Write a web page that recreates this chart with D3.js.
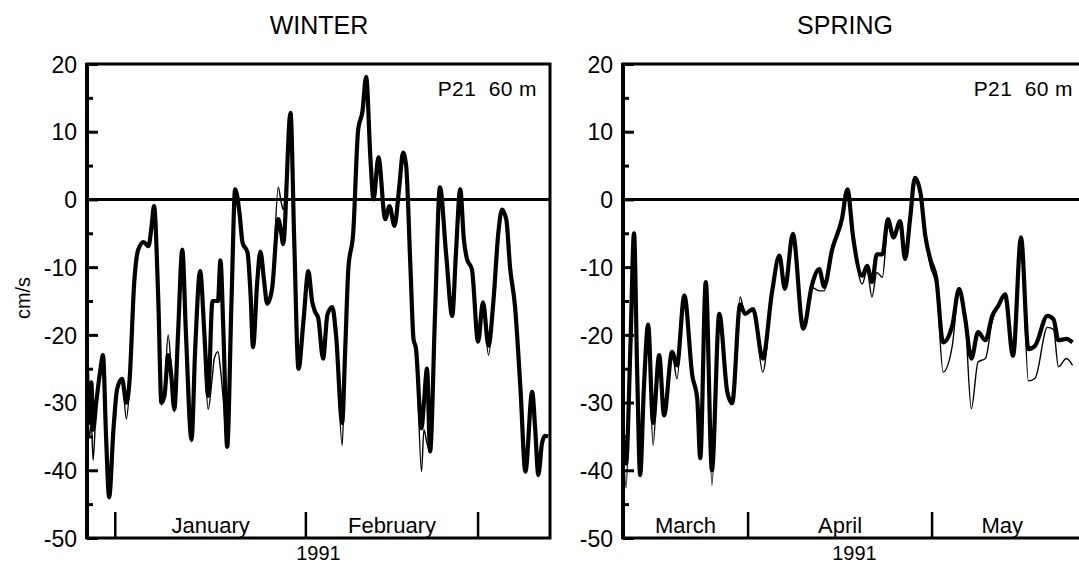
<!DOCTYPE html>
<html>
<head>
<meta charset="utf-8">
<script src="https://cdn.jsdelivr.net/npm/d3@7"></script>
<style>
  body { margin: 0; background: #fff; }
  text { font-family: "Liberation Sans", Arial, sans-serif; fill: #000; }
</style>
</head>
<body>
<script>
/* y axis */
var yTicks = [20, 10, 0, -10, -20, -30, -40, -50];
var yMinorTicks = [15, 5, -5, -15, -25, -35, -45];

/* winter: day of 1991 (0 = Jan 1), thick and thin series in cm/s */
var winterDays = [-4.6, -4.2, -3.9, -3.6, -3.1, -2.4, -2.0, -1.5, -1.0, -0.3,
  0.3, 1.1, 1.8, 2.3, 3.1, 3.7, 4.6, 5.4, 5.9, 6.3,
  7.0, 7.5, 8.0, 8.6, 9.1, 9.6, 10.2, 10.9, 11.5, 12.4,
  13.0, 13.8, 14.5, 15.1, 15.8, 16.1, 16.7, 17.1, 17.6, 18.2,
  18.9, 19.5, 20.2, 20.7, 21.5, 22.0, 22.4, 23.1, 23.6, 24.2,
  24.7, 25.5, 26.5, 27.0, 27.3, 28.5, 29.1, 29.8, 30.6, 31.4,
  32.0, 32.5, 33.0, 33.8, 34.5, 35.3, 35.9, 36.9, 37.4, 37.9,
  38.7, 39.5, 40.2, 40.8, 41.5, 42.0, 42.8, 43.9, 44.6, 45.4,
  46.2, 46.8, 47.3, 48.0, 48.5, 48.9, 49.8, 50.2, 50.7, 51.2,
  52.0, 52.8, 53.8, 54.8, 55.4, 56.1, 56.7, 57.2, 58.0, 59.0,
  59.8, 60.7, 61.5, 62.3, 62.9, 63.6, 64.2, 65.0, 65.9, 66.7,
  67.8, 68.3, 68.8, 69.4, 69.9, 70.4];
var winterThick = [-25, -33, -27, -34, -30, -25, -23, -35, -44, -34,
  -28, -26.5, -30, -27, -12, -7.5, -6.3, -6.9, -4, -1,
  -15, -30, -29, -23, -26, -31, -20, -7.4, -20, -35.5,
  -22, -10.6, -20, -29, -15, -15, -15, -9, -20, -36.5,
  -15, 1.5, -2, -6.4, -7.8, -14, -21.8, -12, -7.7, -12,
  -15.4, -13.2, -2.9, -5, -6.6, 12.8, -6, -25, -18, -10.6,
  -15, -16.6, -17.5, -23.5, -17, -15.9, -20, -33, -22, -10.3,
  -4.9, 10.3, 13, 18.1, 6, 0, 6.2, -2.9, -1, -3.9,
  2, 6.9, 5, -10, -20.6, -22, -33.8, -30, -25, -37.2,
  -17, 1.8, -8, -17.2, -8, 1.5, -6, -8.8, -10.3, -21,
  -15.2, -21.6, -15, -4.9, -1.5, -3, -10, -15.7, -28, -40.2,
  -28.4, -34, -40.7, -36, -34.9, -35];
var winterThin = [-25, -35, -33, -38.5, -30, -26, -23, -35, -44, -34,
  -28, -26.5, -32.4, -28, -12, -7.5, -6.3, -6.9, -4, -1,
  -15, -30.4, -28, -20, -25, -31.4, -20, -7.4, -20, -35.8,
  -22, -10.6, -22, -31, -26, -23.5, -22.5, -25, -30, -36.8,
  -15, 1.5, -2, -6.4, -7.8, -14, -21.8, -12, -7.7, -12,
  -15.4, -13.2, 1.8, -0.5, -1.5, 12.8, -6, -25, -18, -10.6,
  -15, -16.6, -17.5, -23.5, -17, -15.9, -20, -36.3, -22, -10.3,
  -4.9, 10.3, 13, 18.1, 6, 0, 6.2, -2.9, -1, -3.9,
  2, 6.9, 5, -10, -20.6, -22, -40.2, -34, -36, -37.2,
  -17, 1.8, -8, -17.2, -8, 1.5, -6, -8.8, -10.3, -21,
  -15.2, -23, -16, -4.9, -1.5, -3, -10, -15.7, -28, -40.2,
  -28.4, -34, -40.7, -36, -34.9, -35];
var winterMonthTicks = [0, 31, 59];
var winterMonthNames = ['January', 'February'];
var winterMonthSpans = [[0, 31], [31, 59]];

/* spring */
var springDays = [69.6, 70.1, 70.8, 71.4, 71.9, 72.4, 73.0, 73.7, 74.5, 75.5,
  76.3, 77.6, 78.4, 79.6, 80.9, 81.7, 82.2, 83.1, 84.1, 85.3,
  86.6, 87.4, 88.7, 89.5, 90.8, 92.4, 93.9, 95.1, 96.0, 97.3,
  99.0, 100.4, 101.6, 102.4, 103.7, 105.3, 106.2, 107.1, 108.6, 109.4,
  110.2, 111.0, 111.9, 112.8, 113.7, 114.8, 115.6, 116.4, 117.2, 118.1,
  118.9, 119.7, 120.7, 121.8, 123.3, 124.4, 125.4, 126.4, 127.5, 128.7,
  129.8, 130.8, 131.9, 133.2, 134.5, 135.7, 136.8, 138.8, 139.8, 140.6,
  141.9, 142.9];
var springThick = [-35, -39, -22, -5, -25, -40.7, -28, -18.5, -33, -23,
  -31.9, -22.5, -24.5, -14.2, -26, -29.4, -38.2, -12.2, -40, -16.9,
  -28.4, -30.1, -15.5, -16.9, -16.2, -23.5, -13.7, -8.3, -13.2, -5.1,
  -19.1, -12.7, -10.3, -12.9, -7.4, -2.9, 1.5, -5.4, -11.3, -9.8,
  -12.2, -8.1, -8.1, -2.9, -5.6, -3.2, -8.8, -3, 3.2, 1,
  -5.4, -8.8, -11.8, -21.1, -18.6, -13.2, -17.6, -23.5, -19.6, -20.8,
  -17.2, -15.7, -14, -23.1, -5.6, -22.1, -21.6, -17.2, -17.7, -20.8,
  -20.6, -21.1];
var springThin = [-35, -42.6, -22, -5, -25, -40.7, -28, -18.5, -36.3, -23,
  -32, -22.5, -26.5, -14.2, -26, -29.4, -38.2, -12.2, -42.2, -16.9,
  -28.4, -30.1, -14.4, -16.9, -16.2, -25.5, -13.7, -8.3, -13.2, -5.1,
  -19.1, -13, -13.5, -13.5, -7.4, -2.9, 1.5, -5.4, -12.5, -10.5,
  -14.4, -10.8, -11.5, -4, -5.8, -3.2, -8.8, -3, 3.2, 1,
  -5.4, -9.8, -12.7, -25.5, -21.6, -13.2, -17.6, -30.9, -24, -23.5,
  -18, -15.7, -14, -23.1, -5.6, -26.8, -26.4, -18.9, -19.2, -24.7,
  -23.5, -24.5];
var springMonthTicks = [90, 120];
var springMonthNames = ['March', 'April', 'May'];
var springMonthSpans = [[69.6, 90], [90, 120], [120, 142.9]];

var plotTop = 64, plotBottom = 538, plotWidth = 463;

var svg = d3.select('body').append('svg')
  .attr('width', 1079)
  .attr('height', 566);

function drawPanel(p) {
  var x = d3.scaleLinear().domain([p.dayStart, p.dayEnd]).range([p.left, p.left + plotWidth]);
  var y = d3.scaleLinear().domain([-50, 20]).range([plotBottom, plotTop]);
  var g = svg.append('g');

  /* title */
  g.append('text')
    .attr('x', p.titleX).attr('y', 34)
    .attr('text-anchor', 'middle')
    .style('font-size', '25px')
    .text(p.title);

  /* minor ticks, inward */
  var minor = g.append('g')
    .attr('transform', 'translate(' + p.left + ',0)')
    .call(d3.axisLeft(y).tickValues(yMinorTicks).tickSize(-6).tickFormat(''));
  minor.select('.domain').remove();
  minor.selectAll('line').attr('stroke-width', 3);

  /* major ticks and labels */
  var major = g.append('g')
    .attr('transform', 'translate(' + p.left + ',0)')
    .call(d3.axisLeft(y).tickValues(yTicks).tickSize(-11).tickPadding(10)
      .tickFormat(function (d) { return String(d); }));
  major.select('.domain').remove();
  major.selectAll('line').attr('stroke-width', 3);
  major.selectAll('text').style('font-size', '23px').attr('dy', '0.36em');

  /* frame */
  g.append('rect')
    .attr('x', p.left).attr('y', plotTop)
    .attr('width', plotWidth).attr('height', plotBottom - plotTop)
    .attr('fill', 'none').attr('stroke', '#000').attr('stroke-width', 3);
  g.append('line')
    .attr('x1', p.left).attr('x2', p.left)
    .attr('y1', plotTop - 1).attr('y2', plotBottom + 1)
    .attr('stroke', '#000').attr('stroke-width', 4);

  /* zero line */
  g.append('line')
    .attr('x1', x(p.dayStart)).attr('x2', x(p.dayEnd))
    .attr('y1', y(0)).attr('y2', y(0))
    .attr('stroke', '#000').attr('stroke-width', 3);

  /* month boundaries */
  g.selectAll('.month-tick').data(p.monthTicks).enter().append('line')
    .attr('class', 'month-tick')
    .attr('x1', function (d) { return x(d); }).attr('x2', function (d) { return x(d); })
    .attr('y1', plotBottom).attr('y2', plotBottom - 26)
    .attr('stroke', '#000').attr('stroke-width', 2.5);

  g.selectAll('.month-label').data(p.monthNames).enter().append('text')
    .attr('class', 'month-label')
    .attr('x', function (d, i) { return x((p.monthSpans[i][0] + p.monthSpans[i][1]) / 2); })
    .attr('y', 533)
    .attr('text-anchor', 'middle')
    .style('font-size', '22px')
    .text(function (d) { return d; });

  /* year */
  g.append('text')
    .attr('x', p.left + plotWidth / 2).attr('y', 560)
    .attr('text-anchor', 'middle')
    .style('font-size', '20px')
    .text('1991');

  /* station label */
  g.append('text')
    .attr('x', p.left + plotWidth - 13).attr('y', 96)
    .attr('text-anchor', 'end')
    .style('font-size', '21px')
    .style('letter-spacing', '0.4px')
    .style('white-space', 'pre')
    .text('P21  60 m');

  /* series */
  var line = d3.line()
    .x(function (d) { return x(d[0]); })
    .y(function (d) { return y(d[1]); })
    .curve(d3.curveMonotoneX);

  g.append('path')
    .datum(d3.zip(p.days, p.thin))
    .attr('d', line)
    .attr('fill', 'none').attr('stroke', '#000')
    .attr('stroke-width', 1.4).attr('stroke-linejoin', 'round');

  g.append('path')
    .datum(d3.zip(p.days, p.thick))
    .attr('d', line)
    .attr('fill', 'none').attr('stroke', '#000')
    .attr('stroke-width', 4.2).attr('stroke-linejoin', 'round');
}

drawPanel({
  title: 'WINTER', titleX: 319, left: 87, dayStart: -4.6, dayEnd: 70.7,
  days: winterDays, thick: winterThick, thin: winterThin,
  monthTicks: winterMonthTicks, monthNames: winterMonthNames, monthSpans: winterMonthSpans
});

drawPanel({
  title: 'SPRING', titleX: 845, left: 623, dayStart: 69.6, dayEnd: 145.1,
  days: springDays, thick: springThick, thin: springThin,
  monthTicks: springMonthTicks, monthNames: springMonthNames, monthSpans: springMonthSpans
});

/* y axis title */
svg.append('text')
  .attr('transform', 'translate(30,298) rotate(-90)')
  .attr('text-anchor', 'middle')
  .style('font-size', '20px')
  .text('cm/s');
</script>
</body>
</html>
